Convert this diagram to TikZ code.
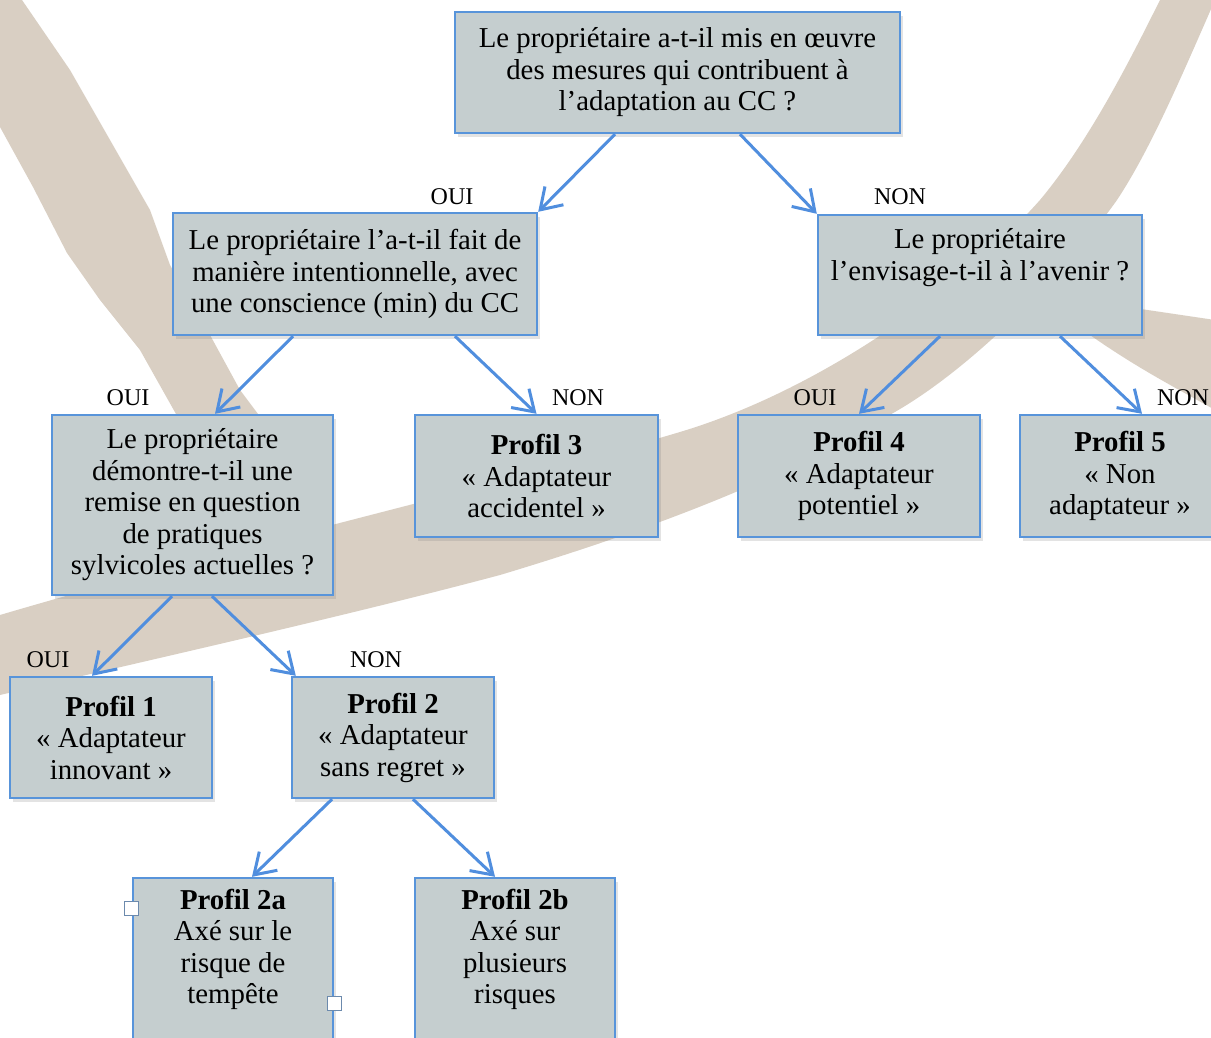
\documentclass[tikz,border=0pt]{standalone}
\usepackage{fontspec}
\setmainfont{Liberation Serif}
\usetikzlibrary{arrows.meta,calc,shadows}

\definecolor{sand}{RGB}{217,207,195}
\definecolor{boxfill}{RGB}{197,206,207}
\definecolor{boxline}{RGB}{88,148,218}
\definecolor{arrowblue}{RGB}{80,142,222}

\begin{document}
\begin{tikzpicture}[x=0.5pt,y=-0.5pt,
  box/.style={draw=boxline, line width=1.2pt, fill=boxfill, inner sep=0pt, align=center,
    font=\fontsize{14.4}{15.75}\selectfont,
    drop shadow={shadow xshift=1.5pt, shadow yshift=-2pt, opacity=0.22}},
  lbl/.style={font=\fontsize{12}{14}\selectfont, inner sep=0pt},
  arr/.style={-{Straight Barb[length=10pt,width=13pt]}, draw=arrowblue, line width=1.5pt},
  handle/.style={draw=boxline!50!gray, fill=white, line width=0.6pt, minimum size=7pt, inner sep=0pt}]

\useasboundingbox (0,0) rectangle (1211,1038);
\clip (0,0) rectangle (1211,1038);
\fill[white] (0,0) rectangle (1211,1038);

% brush strokes
\fill[sand] (0,0) -- (22,0) -- (70,70) -- (110,140) -- (150,210) -- (170,265) -- (210,335)
  -- (240,390) -- (270,430) -- (185,430) -- (140,350) -- (100,300) -- (67,253) -- (33,187)
  -- (0,127) -- cycle;

\fill[sand] (0,615) .. controls (220,550) and (520,480) .. (680,432)
  .. controls (820,390) and (960,290) .. (1040,200) .. controls (1090,140) and (1130,60) .. (1160,0)
  -- (1215,0) .. controls (1180,80) and (1150,150) .. (1117,200)
  .. controls (1060,280) and (960,380) .. (880,420) .. controls (780,480) and (650,530) .. (500,575)
  .. controls (350,615) and (150,660) .. (0,695) -- cycle;

\fill[sand] (1080,300) -- (1215,320) -- (1215,410) .. controls (1180,390) and (1140,370) .. (1090,335) -- cycle;

% questions
\node[box, minimum width=222.5pt, minimum height=60.5pt] (q1) at (677.5,72.5)
  {Le propriétaire a-t-il mis en œuvre\\ des mesures qui contribuent à\\ l’adaptation au CC ?};
\node[box, minimum width=182pt, minimum height=61pt] (q2) at (355,274)
  {Le propriétaire l’a-t-il fait de\\ manière intentionnelle, avec\\ une conscience (min) du CC};
\node[box, minimum width=162pt, minimum height=60pt] (q3) at (980,275)
  {Le propriétaire\\ l’envisage-t-il à l’avenir ?\\ \strut};
\node[box, minimum width=140.5pt, minimum height=90pt] (q4) at (192.5,505)
  {Le propriétaire\\ démontre-t-il une\\ remise en question\\ de pratiques\\ sylvicoles actuelles ?};

% profils
\node[box, minimum width=121.5pt, minimum height=61pt] (p3) at (536.5,476)
  {\textbf{Profil 3}\\ « Adaptateur\\ accidentel »};
\node[box, minimum width=121pt, minimum height=61pt] (p4) at (859,476)
  {\textbf{Profil 4}\\ « Adaptateur\\ potentiel »};
\node[box, minimum width=100pt, minimum height=61pt] (p5) at (1120,476)
  {\textbf{Profil 5}\\ « Non\\ adaptateur »};
\node[box, minimum width=101pt, minimum height=60.5pt] (p1) at (111,737.5)
  {\textbf{Profil 1}\\ « Adaptateur\\ innovant »};
\node[box, minimum width=101pt, minimum height=60.5pt] (p2) at (393,737.5)
  {\textbf{Profil 2}\\ « Adaptateur\\ sans regret »};
\node[box, minimum width=100pt, minimum height=89pt] (p2a) at (233,967)
  {\textbf{Profil 2a}\\ Axé sur le\\ risque de\\ tempête\\ \strut};
\node[box, minimum width=100pt, minimum height=89pt] (p2b) at (515,967)
  {\textbf{Profil 2b}\\ Axé sur\\ plusieurs\\ risques\\ \strut};

\node[handle] (hdl1) at ($(p2a.north west)+(0,32)$) {};
\node[handle] (hdl2) at ($(p2a.north east)+(0,127)$) {};

% answers
\node[lbl] (oui1) at (452,197) {OUI};
\node[lbl] (non1) at (900,197) {NON};
\node[lbl] (oui2) at (128,398) {OUI};
\node[lbl] (non2) at (578,398) {NON};
\node[lbl] (oui3) at (815,398) {OUI};
\node[lbl] (non3) at (1183,398) {NON};
\node[lbl] (oui4) at (48,660) {OUI};
\node[lbl] (non4) at (376,660) {NON};

\draw[arr] ($(q1.south)+(-62.5,0)$) -- (q2.north east);
\draw[arr] ($(q1.south)+(62.5,0)$) -- (q3.north west);
\draw[arr] ($(q2.south)+(-62,0)$) -- ($(q4.north)+(22.5,0)$);
\draw[arr] ($(q2.south)+(100,0)$) -- (p3.north);
\draw[arr] ($(q3.south)+(-40,0)$) -- (p4.north);
\draw[arr] ($(q3.south)+(80,0)$) -- ($(p5.north)+(22,0)$);
\draw[arr] ($(q4.south)+(-20.5,0)$) -- ($(p1.north)+(-19,0)$);
\draw[arr] ($(q4.south)+(19.5,0)$) -- ($(p2.north west)+(5,0)$);
\draw[arr] ($(p2.south)+(-61,0)$) -- ($(p2a.north)+(19,0)$);
\draw[arr] ($(p2.south)+(20,0)$) -- ($(p2b.north)+(-20,0)$);

\end{tikzpicture}
\end{document}
